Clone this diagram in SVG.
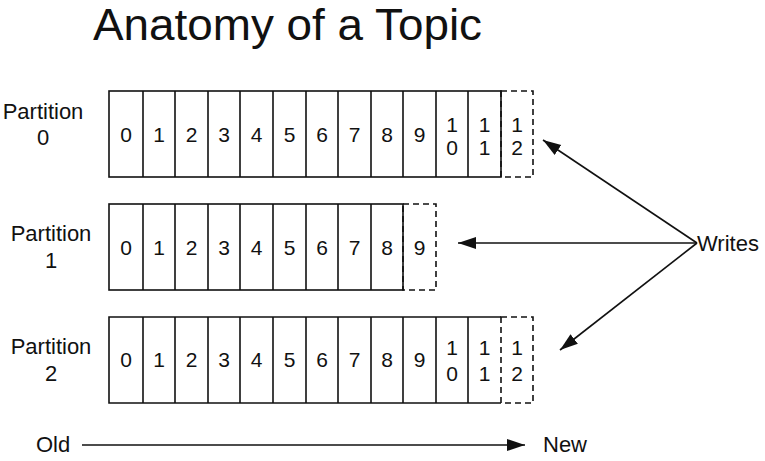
<svg xmlns="http://www.w3.org/2000/svg" width="765" height="461" viewBox="0 0 765 461">
<defs>
<style>
text{font-family:"Liberation Sans",Arial,Helvetica,sans-serif;fill:#111}
.t{font-size:44px}
.l{font-size:22px;text-anchor:middle}
.d{font-size:21px;text-anchor:middle}
.w{font-size:22px}
.box{fill:#fff;stroke:#111;stroke-width:1.6}
.cell{stroke:#111;stroke-width:1.6}
.dash{fill:none;stroke:#111;stroke-width:1.6;stroke-dasharray:6 4}
.con{stroke:#111;stroke-width:1.6;fill:none}
</style>
<marker id="ah" markerUnits="userSpaceOnUse" markerWidth="20" markerHeight="14" viewBox="0 0 20 14" refX="18" refY="7" orient="auto">
<path d="M0,1 L18,7 L0,13 Z" fill="#111"/>
</marker>
</defs>
<rect width="765" height="461" fill="#fff"/>
<text class="t" x="93" y="40" textLength="389" lengthAdjust="spacingAndGlyphs">Anatomy of a Topic</text>

<g id="partition0">
<text class="l" x="43" y="119">Partition</text>
<text class="l" x="43" y="145">0</text>
<rect class="box" x="109" y="91" width="392" height="86"/>
<path class="cell" d="M143,91V177M175,91V177M208,91V177M240,91V177M273,91V177M306,91V177M338,91V177M371,91V177M403,91V177M436,91V177M468,91V177"/>
<rect class="dash" x="501" y="91" width="32" height="86"/>
<text class="d" x="126" y="142">0</text>
<text class="d" x="159" y="142">1</text>
<text class="d" x="191.5" y="142">2</text>
<text class="d" x="224" y="142">3</text>
<text class="d" x="256.5" y="142">4</text>
<text class="d" x="289.5" y="142">5</text>
<text class="d" x="322" y="142">6</text>
<text class="d" x="354.5" y="142">7</text>
<text class="d" x="387" y="142">8</text>
<text class="d" x="419.5" y="142">9</text>
<text class="d" x="452" y="132">1</text><text class="d" x="452" y="155">0</text>
<text class="d" x="484.5" y="132">1</text><text class="d" x="484.5" y="155">1</text>
<text class="d" x="517" y="132">1</text><text class="d" x="517" y="155">2</text>
</g>

<g id="partition1">
<text class="l" x="51" y="241">Partition</text>
<text class="l" x="51" y="268">1</text>
<rect class="box" x="109" y="204" width="294" height="86"/>
<path class="cell" d="M143,204V290M175,204V290M208,204V290M240,204V290M273,204V290M306,204V290M338,204V290M371,204V290"/>
<rect class="dash" x="403" y="204" width="33" height="86"/>
<text class="d" x="126" y="255">0</text>
<text class="d" x="159" y="255">1</text>
<text class="d" x="191.5" y="255">2</text>
<text class="d" x="224" y="255">3</text>
<text class="d" x="256.5" y="255">4</text>
<text class="d" x="289.5" y="255">5</text>
<text class="d" x="322" y="255">6</text>
<text class="d" x="354.5" y="255">7</text>
<text class="d" x="387" y="255">8</text>
<text class="d" x="419.5" y="255">9</text>
</g>

<g id="partition2">
<text class="l" x="51" y="354">Partition</text>
<text class="l" x="51" y="381">2</text>
<path class="box" d="M501,317H109V403H501"/>
<path class="cell" d="M143,317V403M175,317V403M208,317V403M240,317V403M273,317V403M306,317V403M338,317V403M371,317V403M403,317V403M436,317V403M468,317V403"/>
<rect class="dash" x="501" y="317" width="32" height="86"/>
<text class="d" x="126" y="367">0</text>
<text class="d" x="159" y="367">1</text>
<text class="d" x="191.5" y="367">2</text>
<text class="d" x="224" y="367">3</text>
<text class="d" x="256.5" y="367">4</text>
<text class="d" x="289.5" y="367">5</text>
<text class="d" x="322" y="367">6</text>
<text class="d" x="354.5" y="367">7</text>
<text class="d" x="387" y="367">8</text>
<text class="d" x="419.5" y="367">9</text>
<text class="d" x="452" y="355">1</text><text class="d" x="452" y="381">0</text>
<text class="d" x="484.5" y="355">1</text><text class="d" x="484.5" y="381">1</text>
<text class="d" x="517" y="355">1</text><text class="d" x="517" y="381">2</text>
</g>

<g id="writes">
<text class="w" x="697" y="251">Writes</text>
</g>
<g id="old"><text class="w" x="36" y="452">Old</text></g>
<g id="new"><text class="w" x="543" y="452">New</text></g>

<g id="connectors">
<line class="con" x1="697" y1="243" x2="543" y2="140" marker-end="url(#ah)"/>
<line class="con" x1="697" y1="243" x2="458" y2="243" marker-end="url(#ah)"/>
<line class="con" x1="697" y1="243" x2="560" y2="350" marker-end="url(#ah)"/>
<line class="con" x1="82" y1="445" x2="525" y2="445" marker-end="url(#ah)"/>
</g>
</svg>
